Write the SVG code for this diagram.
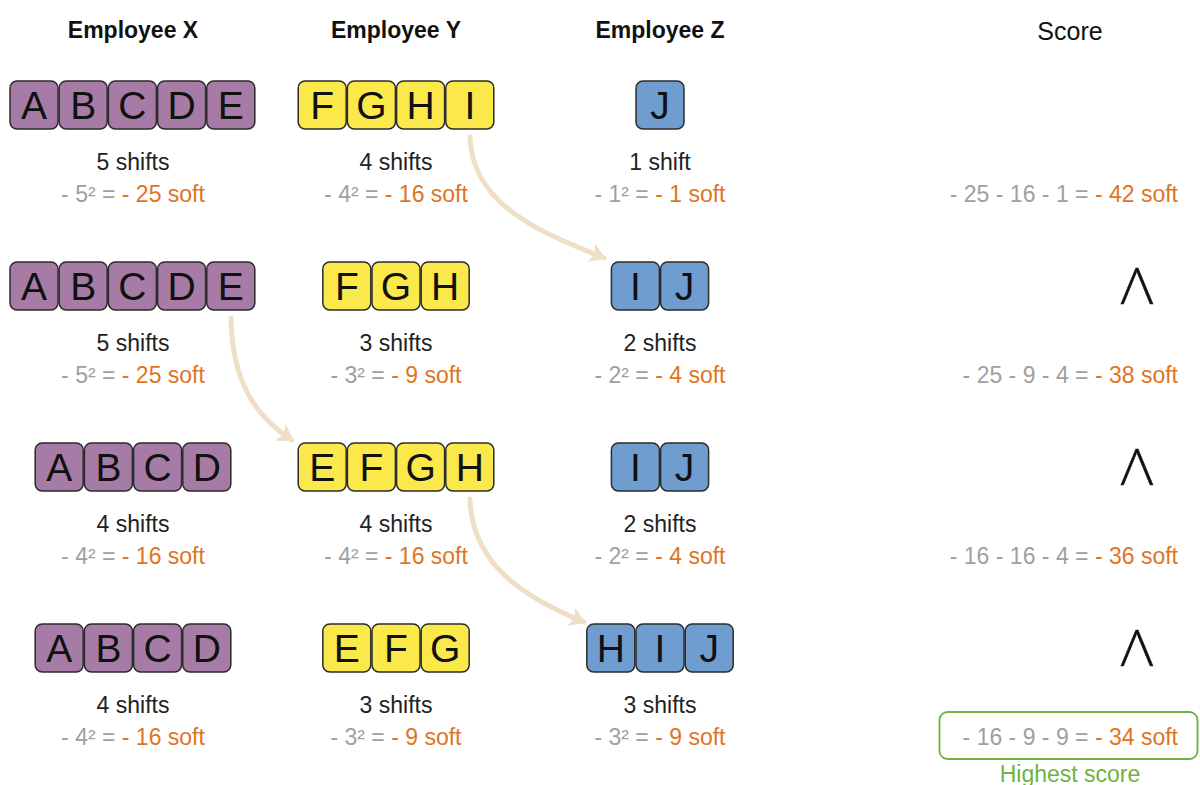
<svg xmlns="http://www.w3.org/2000/svg" width="1200" height="785" viewBox="0 0 1200 785">
<style>
text{font-family:"Liberation Sans",Arial,sans-serif}
.hd{font-size:23px;font-weight:bold;fill:#111;text-anchor:middle}
.sc{font-size:25px;fill:#111;text-anchor:middle}
.lt{font-size:39px;fill:#111;text-anchor:middle}
.sh{font-size:23px;fill:#222;text-anchor:middle}
.fm{font-size:23px;fill:#a0a0a0;text-anchor:middle}
.tot{font-size:23px;fill:#a0a0a0;text-anchor:end}
.or{fill:#e0741f}
.gt{font-family:Lato,"Liberation Sans",sans-serif;font-weight:300;font-size:51px;fill:#111;stroke:#111;stroke-width:0.6;text-anchor:middle}
.p{fill:#a67ca6;stroke:#2b2b2b;stroke-width:1.5}
.y{fill:#fbe94c;stroke:#2b2b2b;stroke-width:1.5}
.b{fill:#6f9dcf;stroke:#2b2b2b;stroke-width:1.5}
.arr{fill:none;stroke:#eedfc6;stroke-width:5;stroke-linecap:round}
</style>
<defs>
<marker id="ah" markerUnits="userSpaceOnUse" markerWidth="30" markerHeight="30" refX="14" refY="10" orient="auto" viewBox="0 0 30 20">
<path d="M0,0 L16,10 L0,20 L4,10 Z" fill="#eedfc6"/>
</marker>
</defs>

<g id="headers">
<text class="hd" x="133" y="38">Employee X</text>
<text class="hd" x="396" y="38">Employee Y</text>
<text class="hd" x="660" y="38">Employee Z</text>
<text class="sc" x="1070" y="40">Score</text>
</g>

<g id="connectors">
<path class="arr" d="M470,137 C472,205 540,232 604,258" marker-end="url(#ah)"/>
<path class="arr" d="M231,318 C232,385 258,418 292,440" marker-end="url(#ah)"/>
<path class="arr" d="M470,499 C472,565 525,598 584,622" marker-end="url(#ah)"/>
</g>

<!-- Row 1 -->
<g id="r1x">
<rect class="p" x="10" y="81" width="48" height="48" rx="7"/><rect class="p" x="59.2" y="81" width="48" height="48" rx="7"/><rect class="p" x="108.4" y="81" width="48" height="48" rx="7"/><rect class="p" x="157.6" y="81" width="48" height="48" rx="7"/><rect class="p" x="206.8" y="81" width="48" height="48" rx="7"/>
<text class="lt" x="34" y="119">A</text><text class="lt" x="83.2" y="119">B</text><text class="lt" x="132.4" y="119">C</text><text class="lt" x="181.6" y="119">D</text><text class="lt" x="230.8" y="119">E</text>
<text class="sh" x="133" y="170">5 shifts</text>
<text class="fm" x="133" y="202">- 5² = <tspan class="or">- 25 soft</tspan></text>
</g>
<g id="r1y">
<rect class="y" x="298.2" y="81" width="48" height="48" rx="7"/><rect class="y" x="347.4" y="81" width="48" height="48" rx="7"/><rect class="y" x="396.6" y="81" width="48" height="48" rx="7"/><rect class="y" x="445.8" y="81" width="48" height="48" rx="7"/>
<text class="lt" x="322.2" y="119">F</text><text class="lt" x="371.4" y="119">G</text><text class="lt" x="420.6" y="119">H</text><text class="lt" x="469.8" y="119">I</text>
<text class="sh" x="396" y="170">4 shifts</text>
<text class="fm" x="396" y="202">- 4² = <tspan class="or">- 16 soft</tspan></text>
</g>
<g id="r1z">
<rect class="b" x="636" y="81" width="48" height="48" rx="7"/>
<text class="lt" x="660" y="119">J</text>
<text class="sh" x="660" y="170">1 shift</text>
<text class="fm" x="660" y="202">- 1² = <tspan class="or">- 1 soft</tspan></text>
</g>
<g id="r1s">
<text class="tot" x="1178" y="202">- 25 - 16 - 1 = <tspan class="or">- 42 soft</tspan></text>
</g>

<!-- Row 2 -->
<g id="r2x">
<rect class="p" x="10" y="262" width="48" height="48" rx="7"/><rect class="p" x="59.2" y="262" width="48" height="48" rx="7"/><rect class="p" x="108.4" y="262" width="48" height="48" rx="7"/><rect class="p" x="157.6" y="262" width="48" height="48" rx="7"/><rect class="p" x="206.8" y="262" width="48" height="48" rx="7"/>
<text class="lt" x="34" y="300">A</text><text class="lt" x="83.2" y="300">B</text><text class="lt" x="132.4" y="300">C</text><text class="lt" x="181.6" y="300">D</text><text class="lt" x="230.8" y="300">E</text>
<text class="sh" x="133" y="351">5 shifts</text>
<text class="fm" x="133" y="383">- 5² = <tspan class="or">- 25 soft</tspan></text>
</g>
<g id="r2y">
<rect class="y" x="322.8" y="262" width="48" height="48" rx="7"/><rect class="y" x="372" y="262" width="48" height="48" rx="7"/><rect class="y" x="421.2" y="262" width="48" height="48" rx="7"/>
<text class="lt" x="346.8" y="300">F</text><text class="lt" x="396" y="300">G</text><text class="lt" x="445.2" y="300">H</text>
<text class="sh" x="396" y="351">3 shifts</text>
<text class="fm" x="396" y="383">- 3² = <tspan class="or">- 9 soft</tspan></text>
</g>
<g id="r2z">
<rect class="b" x="611.4" y="262" width="48" height="48" rx="7"/><rect class="b" x="660.6" y="262" width="48" height="48" rx="7"/>
<text class="lt" x="635.4" y="300">I</text><text class="lt" x="684.6" y="300">J</text>
<text class="sh" x="660" y="351">2 shifts</text>
<text class="fm" x="660" y="383">- 2² = <tspan class="or">- 4 soft</tspan></text>
</g>
<g id="r2s">
<text class="gt" x="1137" y="304">Λ</text>
<text class="tot" x="1178" y="383">- 25 - 9 - 4 = <tspan class="or">- 38 soft</tspan></text>
</g>

<!-- Row 3 -->
<g id="r3x">
<rect class="p" x="35.2" y="443" width="48" height="48" rx="7"/><rect class="p" x="84.4" y="443" width="48" height="48" rx="7"/><rect class="p" x="133.6" y="443" width="48" height="48" rx="7"/><rect class="p" x="182.8" y="443" width="48" height="48" rx="7"/>
<text class="lt" x="59.2" y="481">A</text><text class="lt" x="108.4" y="481">B</text><text class="lt" x="157.6" y="481">C</text><text class="lt" x="206.8" y="481">D</text>
<text class="sh" x="133" y="532">4 shifts</text>
<text class="fm" x="133" y="564">- 4² = <tspan class="or">- 16 soft</tspan></text>
</g>
<g id="r3y">
<rect class="y" x="298.2" y="443" width="48" height="48" rx="7"/><rect class="y" x="347.4" y="443" width="48" height="48" rx="7"/><rect class="y" x="396.6" y="443" width="48" height="48" rx="7"/><rect class="y" x="445.8" y="443" width="48" height="48" rx="7"/>
<text class="lt" x="322.2" y="481">E</text><text class="lt" x="371.4" y="481">F</text><text class="lt" x="420.6" y="481">G</text><text class="lt" x="469.8" y="481">H</text>
<text class="sh" x="396" y="532">4 shifts</text>
<text class="fm" x="396" y="564">- 4² = <tspan class="or">- 16 soft</tspan></text>
</g>
<g id="r3z">
<rect class="b" x="611.4" y="443" width="48" height="48" rx="7"/><rect class="b" x="660.6" y="443" width="48" height="48" rx="7"/>
<text class="lt" x="635.4" y="481">I</text><text class="lt" x="684.6" y="481">J</text>
<text class="sh" x="660" y="532">2 shifts</text>
<text class="fm" x="660" y="564">- 2² = <tspan class="or">- 4 soft</tspan></text>
</g>
<g id="r3s">
<text class="gt" x="1137" y="485">Λ</text>
<text class="tot" x="1178" y="564">- 16 - 16 - 4 = <tspan class="or">- 36 soft</tspan></text>
</g>

<!-- Row 4 -->
<g id="r4x">
<rect class="p" x="35.2" y="624" width="48" height="48" rx="7"/><rect class="p" x="84.4" y="624" width="48" height="48" rx="7"/><rect class="p" x="133.6" y="624" width="48" height="48" rx="7"/><rect class="p" x="182.8" y="624" width="48" height="48" rx="7"/>
<text class="lt" x="59.2" y="662">A</text><text class="lt" x="108.4" y="662">B</text><text class="lt" x="157.6" y="662">C</text><text class="lt" x="206.8" y="662">D</text>
<text class="sh" x="133" y="713">4 shifts</text>
<text class="fm" x="133" y="745">- 4² = <tspan class="or">- 16 soft</tspan></text>
</g>
<g id="r4y">
<rect class="y" x="322.8" y="624" width="48" height="48" rx="7"/><rect class="y" x="372" y="624" width="48" height="48" rx="7"/><rect class="y" x="421.2" y="624" width="48" height="48" rx="7"/>
<text class="lt" x="346.8" y="662">E</text><text class="lt" x="396" y="662">F</text><text class="lt" x="445.2" y="662">G</text>
<text class="sh" x="396" y="713">3 shifts</text>
<text class="fm" x="396" y="745">- 3² = <tspan class="or">- 9 soft</tspan></text>
</g>
<g id="r4z">
<rect class="b" x="586.8" y="624" width="48" height="48" rx="7"/><rect class="b" x="636" y="624" width="48" height="48" rx="7"/><rect class="b" x="685.2" y="624" width="48" height="48" rx="7"/>
<text class="lt" x="610.8" y="662">H</text><text class="lt" x="660" y="662">I</text><text class="lt" x="709.2" y="662">J</text>
<text class="sh" x="660" y="713">3 shifts</text>
<text class="fm" x="660" y="745">- 3² = <tspan class="or">- 9 soft</tspan></text>
</g>
<g id="r4s">
<text class="gt" x="1137" y="666">Λ</text>
<rect x="939.5" y="712" width="258" height="47" rx="8" fill="none" stroke="#6fb23f" stroke-width="1.8"/>
<text class="tot" x="1178" y="745">- 16 - 9 - 9 = <tspan class="or">- 34 soft</tspan></text>
<text x="1070" y="782" style="font-size:23px;fill:#6fb23f;text-anchor:middle">Highest score</text>
</g>
</svg>
